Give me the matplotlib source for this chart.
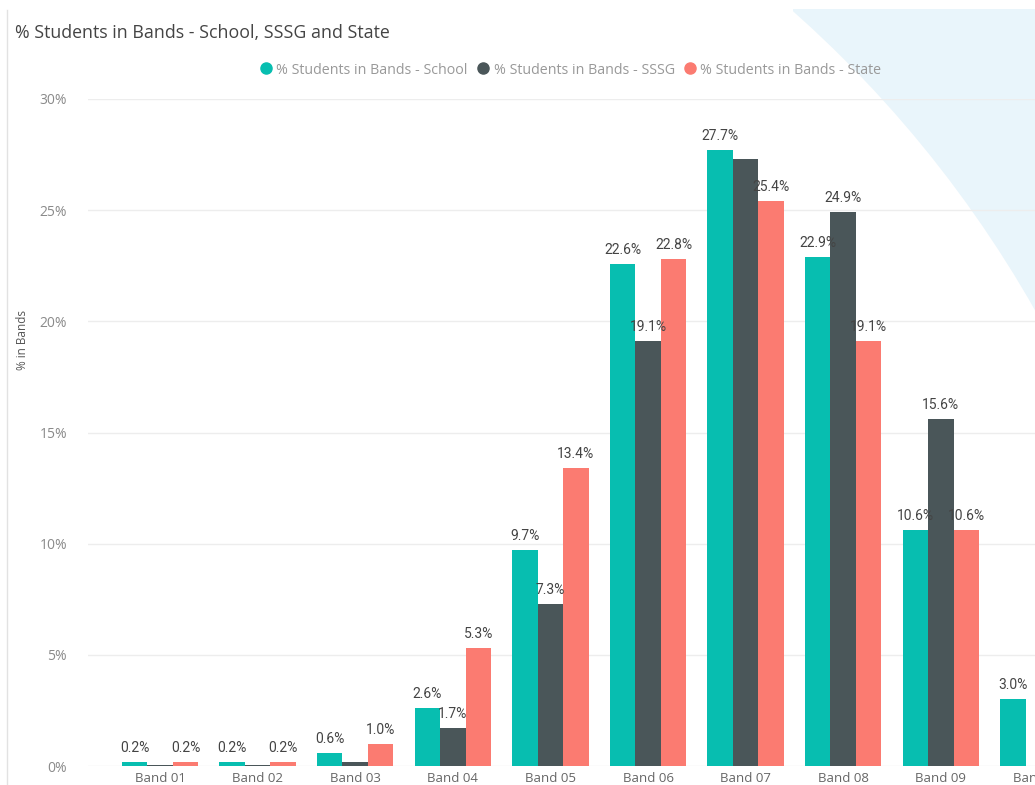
import matplotlib
matplotlib.use("Agg")
import matplotlib.pyplot as plt
import numpy as np
from matplotlib.patches import Circle, Rectangle
from matplotlib.lines import Line2D

bands = ["Band 01", "Band 02", "Band 03", "Band 04", "Band 05",
         "Band 06", "Band 07", "Band 08", "Band 09", "Band 10"]
school = [0.2, 0.2, 0.6, 2.6, 9.7, 22.6, 27.7, 22.9, 10.6, 3.0]
sssg = [0.05, 0.05, 0.2, 1.7, 7.3, 19.1, 27.3, 24.9, 15.6, np.nan]
state = [0.2, 0.2, 1.0, 5.3, 13.4, 22.8, 25.4, 19.1, 10.6, np.nan]
# labels Power BI dropped because they collided
sssg_hidden = ["Band 01", "Band 02", "Band 03", "Band 07"]

series = [
    ("% Students in Bands - School", school, "#07BEB0", []),
    ("% Students in Bands - SSSG", sssg, "#4A5659", sssg_hidden),
    ("% Students in Bands - State", state, "#FB7B71", []),
]

W, H = 1035, 785
fig = plt.figure(figsize=(W / 100, H / 100), dpi=100)

# background decoration (light blue corner behind a big white arc)
bg = fig.add_axes([0, 0, 1, 1], zorder=-1)
bg.set_xlim(0, W)
bg.set_ylim(H, 0)
bg.axis("off")
bg.add_patch(Rectangle((793, 9), W - 793, H, color="#E9F5FB", lw=0))
bg.add_patch(Circle((13, 890), 1175, color="white", lw=0))
bg.plot([7, 7], [10, H], color="#E2E2E2", lw=1)

ax = fig.add_axes([88 / W, (H - 766) / H, (1060 - 88) / W, (766 - 99) / H])
ax.set_facecolor("none")

x = np.arange(len(bands))
bw = 0.261
for i, (name, vals, color, hidden) in enumerate(series):
    vals = np.array(vals, dtype=float)
    pos = x + (i - 1) * bw
    ax.bar(pos, vals, width=bw, color=color, zorder=2)
    for p, v, b in zip(pos, vals, bands):
        if np.isnan(v) or b in hidden:
            continue
        ax.annotate(f"{v:.1f}%", (p, v), xytext=(0, 5), textcoords="offset points",
                    ha="center", va="bottom", fontsize=10, family="Roboto",
                    color="#444444", zorder=3)

ax.set_xlim(-0.738, 9.221)
ax.set_ylim(0, 30)
ax.set_yticks([0, 5, 10, 15, 20, 25, 30])
ax.set_yticklabels([f"{t}%" for t in [0, 5, 10, 15, 20, 25, 30]])
ax.set_xticks(x)
ax.set_xticklabels(bands)
ax.tick_params(axis="y", length=0, pad=15, labelsize=10, labelcolor="#8A8A8A")
ax.tick_params(axis="x", length=0, pad=4, labelsize=9.5, labelcolor="#666666")
for lab in ax.get_xticklabels() + ax.get_yticklabels():
    lab.set_family("Open Sans")
ax.grid(axis="y", color="#EDEDED", lw=1, zorder=0)
for s in ax.spines.values():
    s.set_visible(False)

fig.text(22 / W, 1 - 340 / H, "% in Bands", rotation=90, ha="center", va="center",
         fontsize=8.5, color="#555555", family="Open Sans")
fig.text(15 / W, 1 - 33 / H, "% Students in Bands - School, SSSG and State",
         ha="left", va="center", fontsize=12.8, color="#444444", family="Open Sans")

handles = [Line2D([0], [0], marker="o", color="none", markerfacecolor=c,
                  markeredgecolor=c, markersize=8, label=n) for n, _, c, _ in series]
fig.legend(handles=handles, loc="center", bbox_to_anchor=(570 / W, 1 - 70 / H), ncol=3,
           frameon=False, handletextpad=0.25, columnspacing=0.55, handlelength=1.0,
           prop={"family": "Open Sans", "size": 10.3}, labelcolor="#999999")

fig.savefig("out.png", dpi=100)
